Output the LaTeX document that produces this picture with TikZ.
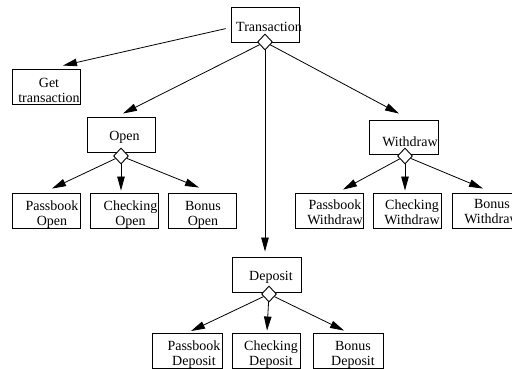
\documentclass[tikz,border=0pt]{standalone}
\usepackage{fontspec}
\setmainfont{Liberation Serif}
\usetikzlibrary{arrows.meta,shapes.geometric}
\begin{document}
\begin{tikzpicture}[x=1pt,y=-1pt,
  box/.style={draw, line width=0.9pt, minimum width=68pt, minimum height=35pt, inner sep=0pt},
  dia/.style={draw, diamond, fill=white, line width=0.9pt, minimum width=15pt, minimum height=16pt, inner sep=0pt},
  txt/.style={font=\fontsize{14pt}{15pt}\selectfont, align=center, inner sep=0pt},
  arr/.style={line width=0.8pt, -{Triangle[length=14pt,width=7.5pt]}}]
\useasboundingbox (0,0) rectangle (512,369);
% boxes
\node[box] (trans) at (265,24.5) {};
\node[box] (get) at (46,86.5) {};
\node[box] (open) at (121,134.5) {};
\node[box, minimum width=69pt, minimum height=34pt] (wd) at (403.5,137) {};
\node[box, minimum width=69pt] (dep) at (266.5,274.5) {};
\node[box] (po) at (46,210.5) {};
\node[box] (co) at (124.5,210.5) {};
\node[box] (bo) at (202.5,210.5) {};
\node[box] (pw) at (329,210.5) {};
\node[box] (cw) at (407,210.5) {};
\node[box] (bw) at (486,210.5) {};
\node[box, minimum width=70pt] (pd) at (187,350.5) {};
\node[box] (cd) at (266,350.5) {};
\node[box, minimum width=70pt] (bd) at (348,350.5) {};
% texts
\node[txt] (ttrans) at (269,26.5) {Transaction};
\node[txt] (tget) at (49,90) {Get\\transaction};
\node[txt] (topen) at (124.5,137) {Open};
\node[txt] (twd) at (410,141.5) {Withdraw};
\node[txt] (tdep) at (271,277) {Deposit};
\node[txt] (tpo) at (52,214.5) {Passbook\\Open};
\node[txt] (tco) at (130.5,214.5) {Checking\\Open};
\node[txt] (tbo) at (203,214.5) {Bonus\\Open};
\node[txt] (tpw) at (335,212) {Passbook\\Withdraw};
\node[txt] (tcw) at (412,212) {Checking\\Withdraw};
\node[txt] (tbw) at (492,212) {Bonus\\Withdraw};
\node[txt] (tpd) at (194,354.5) {Passbook\\Deposit};
\node[txt] (tcd) at (271,354.5) {Checking\\Deposit};
\node[txt] (tbd) at (353,354.5) {Bonus\\Deposit};
% diamonds
\node[dia] (dtr) at (265,42) {};
\node[dia] (dop) at (121,156) {};
\node[dia] (dwd) at (405,156) {};
\node[dia] (ddp) at (269,294) {};
% connectors
\draw[arr, shorten <=5pt] ([yshift=-3pt]trans.west) -- ([xshift=17pt,yshift=3pt]get.north);
\draw[arr] (dtr) -- ([xshift=2pt,yshift=3pt]open.north);
\draw[arr] (dtr) -- ([xshift=-4.5pt,yshift=6pt]wd.north);
\draw[arr] (dtr) -- ([xshift=-1.5pt,yshift=5pt]dep.north);
\draw[arr] (dop) -- ([xshift=6pt,yshift=4pt]po.north);
\draw[arr] (dop) -- ([xshift=-3.5pt,yshift=2pt]co.north);
\draw[arr] (dop) -- ([xshift=-3.5pt,yshift=5pt]bo.north);
\draw[arr] (dwd) -- ([xshift=14pt,yshift=3pt]pw.north);
\draw[arr] (dwd) -- ([xshift=-2pt,yshift=2pt]cw.north);
\draw[arr] (dwd) -- ([xshift=-3pt,yshift=4pt]bw.north);
\draw[arr] (ddp) -- ([xshift=4pt,yshift=1.5pt]pd.north);
\draw[arr] (ddp) -- ([xshift=1pt,yshift=2pt]cd.north);
\draw[arr] (ddp) -- ([xshift=-4pt,yshift=2pt]bd.north);
\end{tikzpicture}
\end{document}
